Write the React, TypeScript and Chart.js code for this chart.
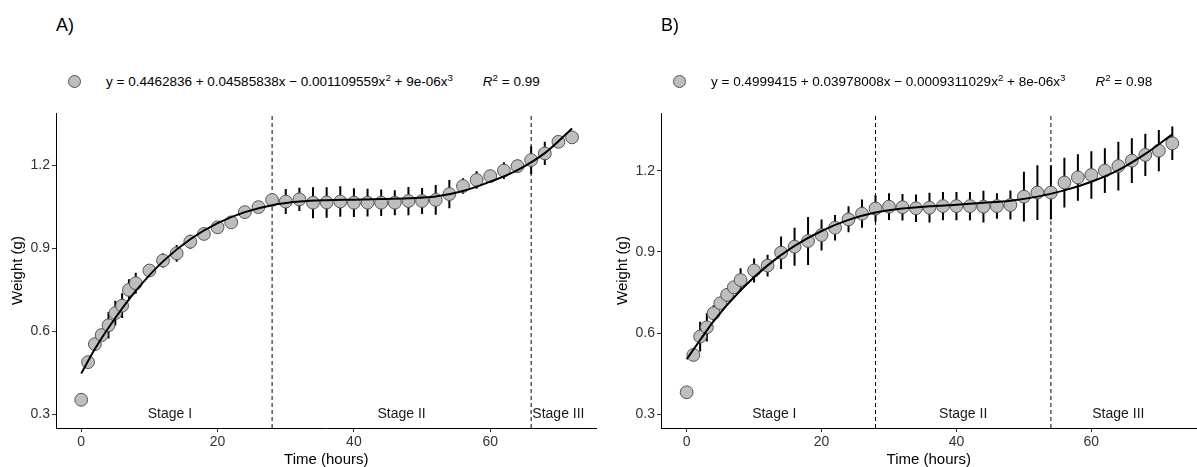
import React, { useEffect, useRef } from "react";
import { Chart, registerables } from "chart.js";

Chart.register(...registerables);

const FONT = '"Liberation Sans", Arial, sans-serif';

// shared sampling times (hours)
const hours = [0, 1, 2, 3, 4, 5, 6, 7, 8, 10, 12, 14, 16, 18, 20, 22, 24, 26, 28, 30, 32, 34, 36, 38, 40, 42, 44, 46, 48, 50, 52, 54, 56, 58, 60, 62, 64, 66, 68, 70, 72];

// Panel A
const weightA = [0.352, 0.488, 0.553, 0.586, 0.621, 0.665, 0.692, 0.749, 0.773, 0.819, 0.855, 0.881, 0.923, 0.951, 0.975, 0.993, 1.030, 1.048, 1.074, 1.068, 1.076, 1.064, 1.065, 1.068, 1.064, 1.064, 1.064, 1.064, 1.070, 1.070, 1.074, 1.095, 1.124, 1.146, 1.160, 1.180, 1.196, 1.218, 1.242, 1.284, 1.300];
const sdA = [0, 0.01, 0.01, 0.02, 0.048, 0.045, 0.045, 0.038, 0.038, 0.01, 0.025, 0.03, 0.025, 0.01, 0.01, 0.02, 0.01, 0.01, 0.015, 0.045, 0.042, 0.056, 0.055, 0.055, 0.052, 0.05, 0.048, 0.045, 0.051, 0.047, 0.054, 0.051, 0.028, 0.032, 0.02, 0.03, 0.024, 0.05, 0.042, 0.01, 0.005];
const fitHours = [0, 2, 4, 8, 12, 16, 20, 24, 28, 32, 36, 40, 44, 48, 52, 56, 60, 64, 68, 72];
const fitA = [0.447, 0.535, 0.612, 0.745, 0.852, 0.932, 0.990, 1.030, 1.055, 1.068, 1.073, 1.075, 1.077, 1.080, 1.086, 1.106, 1.140, 1.182, 1.243, 1.332];
const breaksA = [28, 66];
const stageXA = [13, 47, 70];

// Panel B
const weightB = [0.381, 0.519, 0.587, 0.621, 0.673, 0.710, 0.741, 0.769, 0.796, 0.831, 0.849, 0.897, 0.919, 0.940, 0.962, 0.989, 1.020, 1.041, 1.060, 1.067, 1.065, 1.061, 1.063, 1.069, 1.069, 1.069, 1.067, 1.069, 1.073, 1.104, 1.119, 1.119, 1.156, 1.175, 1.184, 1.200, 1.217, 1.237, 1.258, 1.274, 1.301];
const sdB = [0, 0.015, 0.055, 0.052, 0.03, 0.02, 0.025, 0.02, 0.043, 0.044, 0.04, 0.06, 0.07, 0.089, 0.057, 0.047, 0.048, 0.052, 0.049, 0.049, 0.049, 0.051, 0.055, 0.052, 0.052, 0.052, 0.059, 0.047, 0.054, 0.092, 0.101, 0.1, 0.092, 0.086, 0.088, 0.083, 0.09, 0.083, 0.078, 0.076, 0.062];
const fitB = [0.503, 0.574, 0.644, 0.758, 0.850, 0.922, 0.977, 1.018, 1.045, 1.060, 1.068, 1.074, 1.081, 1.089, 1.104, 1.127, 1.159, 1.202, 1.262, 1.334];
const breaksB = [28, 54];
const stageXB = [13, 41, 64];

const stageNames = ["Stage I", "Stage II", "Stage III"];
const stageLabelY = 0.3;
const xTicks = [0, 20, 40, 60];
const yTicks = [0.3, 0.6, 0.9, 1.2];

type PanelProps = {
  left: number;
  width: number;
  letter: string;
  eq: React.ReactNode;
  r2: string;
  weight: number[];
  sd: number[];
  fit: number[];
  breaks: number[];
  stageX: number[];
  xMin: number;
  xMax: number;
  yMin: number;
  yMax: number;
  yAxisWidth: number;
  yTitlePad: number;
  rightPad: number;
};

function Sup({ children }: { children: React.ReactNode }) {
  return (
    <span style={{ fontSize: "0.72em", position: "relative", top: "-0.5em" }}>{children}</span>
  );
}

function Panel(p: PanelProps) {
  const ref = useRef<HTMLCanvasElement | null>(null);
  useEffect(() => {
    if (!ref.current) return;
    const pts = hours.map((h, i) => ({ x: h, y: p.weight[i] }));
    const bars: any[] = [];
    hours.forEach((h, i) => {
      if (p.sd[i] > 0) {
        bars.push({ x: h, y: p.weight[i] - p.sd[i] });
        bars.push({ x: h, y: p.weight[i] + p.sd[i] });
        bars.push({ x: h, y: null });
      }
    });
    const fit = fitHours.map((h, i) => ({ x: h, y: p.fit[i] }));
    const dashed = p.breaks.map((b) => ({
      data: [
        { x: b, y: p.yMin },
        { x: b, y: p.yMax },
      ],
      showLine: true,
      borderColor: "#000",
      borderWidth: 1,
      borderDash: [4, 3],
      pointRadius: 0,
      order: 3,
    }));
    const stagePlugin = {
      id: "stages",
      afterDatasetsDraw(chart: any) {
        const ctx = chart.ctx;
        const xs = chart.scales.x;
        const ys = chart.scales.y;
        ctx.save();
        ctx.font = `14px ${FONT}`;
        ctx.fillStyle = "#1a1a1a";
        ctx.textAlign = "center";
        ctx.textBaseline = "middle";
        stageNames.forEach((n, i) => {
          ctx.fillText(n, xs.getPixelForValue(p.stageX[i]), ys.getPixelForValue(stageLabelY));
        });
        ctx.restore();
      },
    };
    const chart = new Chart(ref.current, {
      type: "scatter",
      data: {
        datasets: [
          {
            data: fit,
            showLine: true,
            borderColor: "#000",
            borderWidth: 2,
            pointRadius: 0,
            cubicInterpolationMode: "monotone",
            order: 0,
          } as any,
          {
            data: pts,
            pointRadius: 6.4,
            pointBackgroundColor: "#bebebe",
            pointBorderColor: "#555555",
            pointBorderWidth: 1,
            order: 1,
          },
          {
            data: bars,
            showLine: true,
            spanGaps: false,
            borderColor: "#000",
            borderWidth: 2,
            pointRadius: 0,
            order: 2,
          },
          ...dashed,
        ],
      },
      options: {
        animation: false,
        responsive: false,
        layout: { padding: { top: 13, right: p.rightPad, left: 0, bottom: 0 } },
        plugins: { legend: { display: false }, tooltip: { enabled: false } },
        scales: {
          x: {
            type: "linear",
            min: p.xMin,
            max: p.xMax,
            afterBuildTicks: (s: any) => {
              s.ticks = xTicks.map((v) => ({ value: v }));
            },
            afterFit: (s: any) => {
              s.height = 39;
            },
            grid: { drawOnChartArea: false, drawTicks: true, tickLength: 4, color: "#333" },
            border: { display: true, color: "#000", width: 1 },
            ticks: {
              font: { size: 14, family: FONT },
              color: "#333",
              padding: 2,
              maxRotation: 0,
              callback: (v: any) => String(v),
            },
            title: {
              display: true,
              text: "Time (hours)",
              font: { size: 15, family: FONT, lineHeight: 1 },
              color: "#000",
              padding: 0,
            },
          },
          y: {
            type: "linear",
            min: p.yMin,
            max: p.yMax,
            afterBuildTicks: (s: any) => {
              s.ticks = yTicks.map((v) => ({ value: v }));
            },
            afterFit: (s: any) => {
              s.width = p.yAxisWidth;
            },
            grid: { drawOnChartArea: false, drawTicks: true, tickLength: 4, color: "#333" },
            border: { display: true, color: "#000", width: 1 },
            ticks: {
              font: { size: 14, family: FONT },
              color: "#333",
              padding: 2,
              callback: (v: any) => Number(v).toFixed(1),
            },
            title: {
              display: true,
              text: "Weight (g)",
              font: { size: 15, family: FONT, lineHeight: 1 },
              color: "#000",
              padding: { top: p.yTitlePad, bottom: 0 },
            },
          },
        },
      } as any,
      plugins: [stagePlugin],
    });
    return () => chart.destroy();
  }, []);

  return (
    <div style={{ position: "absolute", left: p.left, top: 0, width: p.width, height: 467 }}>
      <div
        style={{
          position: "absolute",
          left: p.yAxisWidth,
          top: 14,
          fontSize: 18,
          lineHeight: "22px",
          color: "#000",
        }}
      >
        {p.letter}
      </div>
      <div
        style={{
          position: "absolute",
          left: p.yAxisWidth + 12,
          top: 75,
          width: 13,
          height: 13,
          borderRadius: "50%",
          background: "#bebebe",
          border: "1px solid #555",
          boxSizing: "border-box",
        }}
      />
      <div
        style={{
          position: "absolute",
          left: p.yAxisWidth + 50,
          top: 73,
          fontSize: 13.5,
          lineHeight: "18px",
          whiteSpace: "nowrap",
          color: "#000",
        }}
      >
        {p.eq}
        <span style={{ marginLeft: 30 }}>
          <i>R</i>
          <Sup>2</Sup> = {p.r2}
        </span>
      </div>
      <canvas
        ref={ref}
        width={p.width}
        height={367}
        style={{ position: "absolute", left: 0, top: 100, width: p.width, height: 367 }}
      />
    </div>
  );
}

export default function App() {
  return (
    <div
      style={{
        position: "fixed",
        left: 0,
        top: 0,
        width: 1197,
        height: 467,
        overflow: "hidden",
        background: "#fff",
        fontFamily: FONT,
      }}
    >
      <Panel
        left={0}
        width={604}
        letter="A)"
        eq={
          <span>
            y = 0.4462836 + 0.04585838x − 0.001109559x<Sup>2</Sup> + 9e-06x<Sup>3</Sup>
          </span>
        }
        r2="0.99"
        weight={weightA}
        sd={sdA}
        fit={fitA}
        breaks={breaksA}
        stageX={stageXA}
        xMin={-3.7}
        xMax={75.6}
        yMin={0.25}
        yMax={1.388}
        yAxisWidth={56}
        yTitlePad={10}
        rightPad={3}
      />
      <Panel
        left={600}
        width={604}
        letter="B)"
        eq={
          <span>
            y = 0.4999415 + 0.03978008x − 0.0009311029x<Sup>2</Sup> + 8e-06x<Sup>3</Sup>
          </span>
        }
        r2="0.98"
        weight={weightB}
        sd={sdB}
        fit={fitB}
        breaks={breaksB}
        stageX={stageXB}
        xMin={-3.8}
        xMax={75.6}
        yMin={0.249}
        yMax={1.413}
        yAxisWidth={61}
        yTitlePad={15.5}
        rightPad={0}
      />
    </div>
  );
}
